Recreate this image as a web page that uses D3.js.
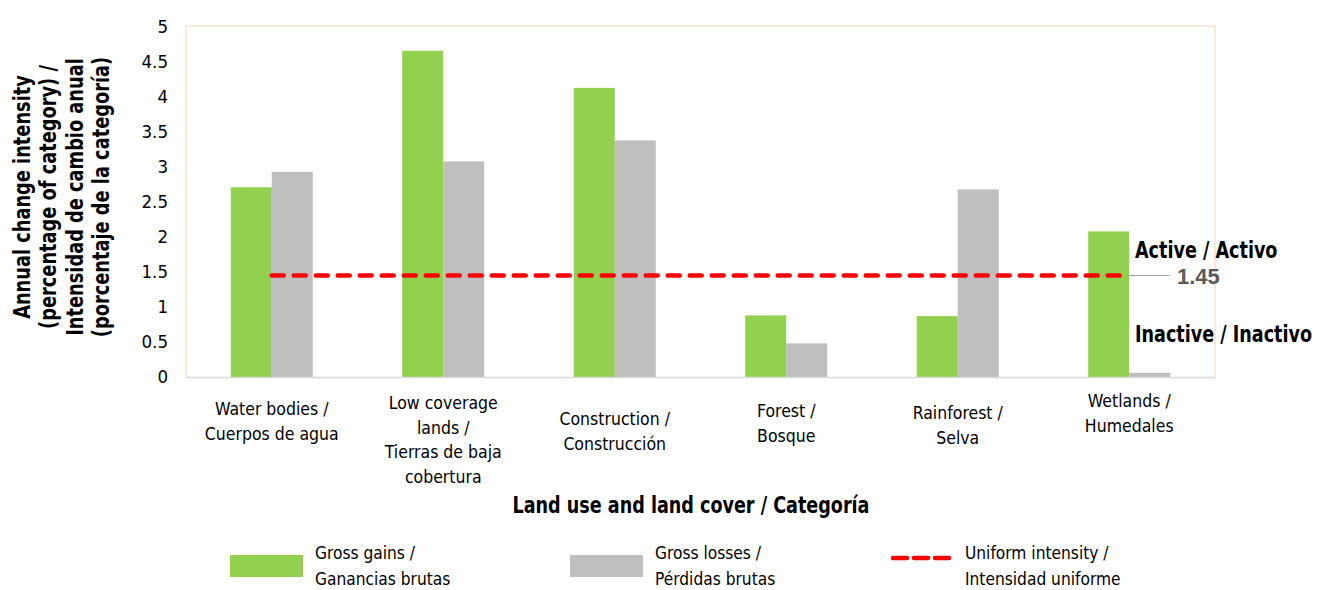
<!DOCTYPE html>
<html>
<head>
<meta charset="utf-8">
<script src="https://cdn.jsdelivr.net/npm/d3@7"></script>
<style>
  body { margin: 0; background: #fff; }
  text { font-family: "DejaVu Sans Condensed", "Liberation Sans Narrow", sans-serif; }
</style>
</head>
<body>
<svg width="1320" height="590"></svg>
<script>
var categories = [
  ["Water bodies /", "Cuerpos de agua"],
  ["Low coverage", "lands /", "Tierras de baja", "cobertura"],
  ["Construction /", "Construcción"],
  ["Forest /", "Bosque"],
  ["Rainforest /", "Selva"],
  ["Wetlands /", "Humedales"]
];
var gains = [2.71, 4.66, 4.13, 0.88, 0.87, 2.08];
var losses = [2.93, 3.08, 3.38, 0.48, 2.68, 0.06];
var uniform = 1.45;
var yTicks = [0, 0.5, 1, 1.5, 2, 2.5, 3, 3.5, 4, 4.5, 5];

var green = "#92d050";
var grey = "#bfbfbf";
var red = "#ff0000";

var svg = d3.select("svg");
var plotLeft = 186, plotRight = 1215, plotTop = 27, plotBottom = 377;

// vertical nudge of each category label (as in the source)
var labelTop = [408, 402, 418, 410, 412, 400];

var x = d3.scaleBand().domain(d3.range(categories.length)).range([plotLeft, plotRight]);
var y = d3.scaleLinear().domain([0, 5]).range([plotBottom, plotTop]);
var barW = 41;

// squeeze text horizontally, the source font is condensed
function squeeze(sel, px, py, sx) {
  return sel.attr("x", 0).attr("y", 0)
    .attr("transform", "translate(" + px + "," + py + ") scale(" + sx + ",1)");
}

// plot frame
svg.append("path")
  .attr("d", "M" + plotLeft + "," + plotBottom + "V" + (plotTop - 1) + "H" + plotRight + "V" + plotBottom)
  .attr("fill", "none").attr("stroke", "#fde3cf").attr("stroke-width", 1.5);

// bars
var groups = svg.append("g").selectAll("g")
  .data(categories).enter().append("g");

groups.append("rect")
  .attr("x", function (d, i) { return x(i) + x.bandwidth() / 2 - barW; })
  .attr("y", function (d, i) { return y(gains[i]); })
  .attr("width", barW)
  .attr("height", function (d, i) { return plotBottom - y(gains[i]); })
  .attr("fill", green);

groups.append("rect")
  .attr("x", function (d, i) { return x(i) + x.bandwidth() / 2; })
  .attr("y", function (d, i) { return y(losses[i]); })
  .attr("width", barW)
  .attr("height", function (d, i) { return plotBottom - y(losses[i]); })
  .attr("fill", grey);

// x axis line
svg.append("line")
  .attr("x1", plotLeft).attr("x2", plotRight)
  .attr("y1", plotBottom + 0.5).attr("y2", plotBottom + 0.5)
  .attr("stroke", "#d9d9d9").attr("stroke-width", 1.5);

// y axis
var yAxis = svg.append("g")
  .attr("transform", "translate(" + (plotLeft - 14) + ",0)")
  .call(d3.axisLeft(y).tickValues(yTicks).tickFormat(d3.format("~g"))
    .tickSize(0).tickPadding(4));
yAxis.select(".domain").remove();
yAxis.selectAll("text")
  .attr("font-size", 18.5).attr("fill", "#000")
  .style("font-family", "'DejaVu Sans Condensed', sans-serif");

// uniform intensity line
var xStart = x(0) + x.bandwidth() / 2;
var xEnd = x(5) + x.bandwidth() / 2 - 8;
svg.append("line")
  .attr("x1", xStart).attr("x2", xEnd)
  .attr("y1", y(uniform)).attr("y2", y(uniform))
  .attr("stroke", red).attr("stroke-width", 4.5)
  .attr("stroke-dasharray", "12,10").attr("stroke-linecap", "round");

svg.append("line")
  .attr("x1", x(5) + x.bandwidth() / 2).attr("x2", x(5) + x.bandwidth() / 2 + 40)
  .attr("y1", y(uniform)).attr("y2", y(uniform))
  .attr("stroke", "#a6a6a6").attr("stroke-width", 1.2);

svg.append("text")
  .attr("x", 1177).attr("y", y(uniform) + 8)
  .attr("font-size", 22).attr("font-weight", "bold").attr("fill", "#595959")
  .style("font-family", "'Liberation Sans', sans-serif")
  .text(uniform.toFixed(2));

squeeze(svg.append("text"), 1135, 258, 0.85)
  .attr("font-size", 23).attr("font-weight", "bold")
  .text("Active / Activo");
squeeze(svg.append("text"), 1135, 342, 0.85)
  .attr("font-size", 23).attr("font-weight", "bold")
  .text("Inactive / Inactivo");

// category labels
var catLabels = svg.append("g").selectAll("text")
  .data(categories).enter().append("text")
  .attr("text-anchor", "middle")
  .attr("font-size", 17.5)
  .attr("x", function (d, i) { return x(i) + x.bandwidth() / 2; })
  .attr("y", function (d, i) { return labelTop[i] + 7; });
catLabels.selectAll("tspan")
  .data(function (d) { return d; }).enter().append("tspan")
  .attr("x", function () { return this.parentNode.getAttribute("x"); })
  .attr("dy", function (d, j) { return j === 0 ? 0 : 24.5; })
  .text(function (d) { return d; });

// axis titles
squeeze(svg.append("text"), 691, 513, 0.85)
  .attr("text-anchor", "middle")
  .attr("font-size", 23).attr("font-weight", "bold")
  .text("Land use and land cover / Categoría");

var yTitle = ["Annual change intensity", "(percentage of category) /",
  "Intensidad de cambio anual", "(porcentaje de la categoría)"];
svg.append("g")
  .attr("transform", "translate(30,197) rotate(-90) scale(0.86,1)")
  .selectAll("text").data(yTitle).enter().append("text")
  .attr("text-anchor", "middle")
  .attr("y", function (d, i) { return i * 26.5; })
  .attr("font-size", 23).attr("font-weight", "bold")
  .text(function (d) { return d; });

// legend
var legend = [
  { lines: ["Gross gains /", "Ganancias brutas"], type: "rect", color: green, x: 230 },
  { lines: ["Gross losses /", "Pérdidas brutas"], type: "rect", color: grey, x: 570 },
  { lines: ["Uniform intensity /", "Intensidad uniforme"], type: "line", color: red, x: 891 }
];
var lg = svg.append("g").selectAll("g").data(legend).enter().append("g")
  .attr("transform", function (d) { return "translate(" + d.x + ",0)"; });
lg.filter(function (d) { return d.type === "rect"; }).append("rect")
  .attr("y", 555).attr("width", 73).attr("height", 22)
  .attr("fill", function (d) { return d.color; });
lg.filter(function (d) { return d.type === "line"; }).append("line")
  .attr("x1", 2).attr("x2", 62).attr("y1", 558).attr("y2", 558)
  .attr("stroke", red).attr("stroke-width", 4.5)
  .attr("stroke-dasharray", "14,7").attr("stroke-linecap", "round");
lg.append("text")
  .attr("x", function (d) { return d.type === "rect" ? 85 : 74; })
  .attr("y", 559)
  .attr("font-size", 17.2)
  .selectAll("tspan").data(function (d) { return d.lines; }).enter().append("tspan")
  .attr("x", function () { return this.parentNode.getAttribute("x"); })
  .attr("dy", function (d, j) { return j === 0 ? 0 : 26; })
  .text(function (d) { return d; });
</script>
</body>
</html>
